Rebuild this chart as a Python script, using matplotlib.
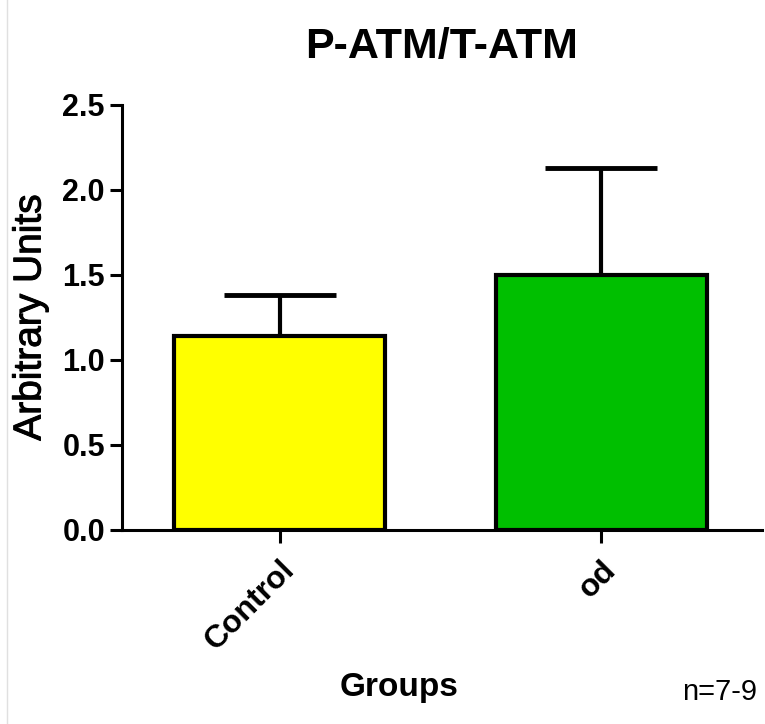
import numpy as np
import matplotlib
matplotlib.use("Agg")
import matplotlib.pyplot as plt
import matplotlib.patheffects as pe
import matplotlib.transforms as mtransforms
from matplotlib.lines import Line2D

plt.rcParams['font.family'] = ['Liberation Sans', 'DejaVu Sans']

# data
groups = ["Control", "od"]
means = [1.14, 1.50]
sem = [0.24, 0.63]
bar_colors = ["#ffff00", "#00bf00"]

fig = plt.figure(figsize=(7.65, 7.24), dpi=100)
ax = fig.add_axes([0.159, 0.268, 0.837, 0.587])

x = np.arange(len(groups))
ax.bar(x, means, width=0.657, color=bar_colors, edgecolor="black",
       linewidth=3, zorder=2)
ax.errorbar(x, means, yerr=[np.zeros(len(sem)), sem], fmt="none",
            ecolor="black", elinewidth=3, capsize=40, capthick=3.5, zorder=1)

ax.set_xlim(-0.492, 1.50)
ax.set_ylim(0, 2.5)
ax.set_yticks([0.0, 0.5, 1.0, 1.5, 2.0, 2.5])
ax.set_yticklabels(["0.0", "0.5", "1.0", "1.5", "2.0", "2.5"],
                   fontsize=22, fontweight="bold")
ax.set_xticks(x)
ax.set_xticklabels(groups, fontsize=23, fontweight="bold", rotation=45,
                   ha="right", va="top", rotation_mode="anchor")
# nudge rotated labels a little left, like the original
shift = mtransforms.ScaledTranslation(-6 / 72, 0, fig.dpi_scale_trans)
for lbl in ax.get_xticklabels():
    lbl.set_transform(lbl.get_transform() + shift)

for side in ["top", "right"]:
    ax.spines[side].set_visible(False)
for side in ["left", "bottom"]:
    ax.spines[side].set_linewidth(2.2)
ax.tick_params(axis="both", width=2.2, length=9, direction="out", pad=3)
ax.tick_params(axis="x", pad=9)

ax.set_title("P-ATM/T-ATM", fontsize=31, fontweight="bold", pad=34)
ylab = ax.set_ylabel("Arbitrary Units", fontsize=28, labelpad=10)
ylab.set_path_effects([pe.withStroke(linewidth=0.7, foreground="black")])
ax.set_xlabel("Groups", fontsize=24, fontweight="bold")
ax.xaxis.set_label_coords(0.433, -0.334)

fig.text(757 / 765, 1 - 700 / 724, "n=7-9", fontsize=21, ha="right",
         va="baseline")

# faint border line at the left edge of the screenshot
fig.add_artist(Line2D([7 / 765, 7 / 765], [0, 1], color="#e0e0e0", lw=1))

fig.savefig("out.png", dpi=100)
